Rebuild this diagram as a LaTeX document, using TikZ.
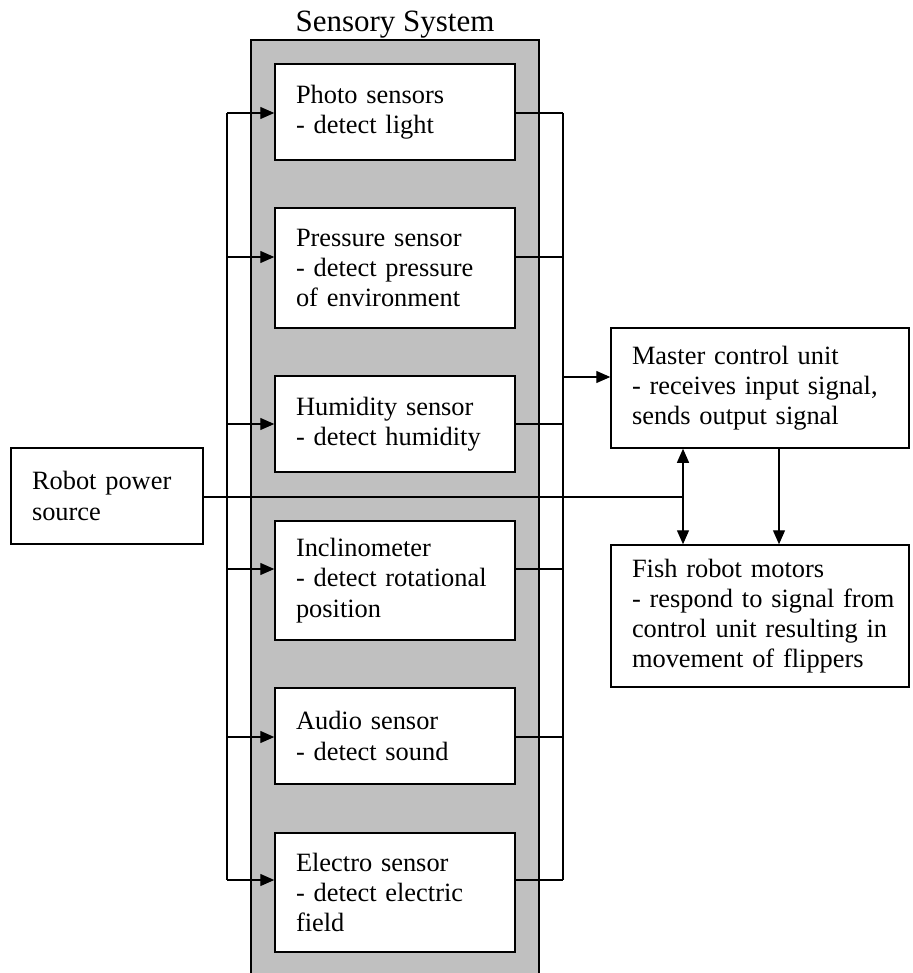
\documentclass[tikz,border=0pt]{standalone}
\usepackage{fontspec}
\setmainfont{Liberation Serif}
\usetikzlibrary{arrows.meta}
\definecolor{panelgray}{RGB}{192,192,192}
\begin{document}
\begin{tikzpicture}[x=1pt,y=-1pt,
  blk/.style={draw=black, fill=white, line width=1.5pt, align=left, inner xsep=21pt, inner ysep=0pt,
    font=\fontsize{26.4}{30.2}\selectfont},
  sensor/.style={blk, text width=198pt, minimum height=#1},
  conn/.style={line width=1.3pt},
  arr/.style={conn, -{Triangle[length=14pt,width=12pt]}},
  darr/.style={conn, {Triangle[length=14pt,width=12pt]}-{Triangle[length=14pt,width=12pt]}}]
\useasboundingbox (0,0) rectangle (912,973);
% sensory system panel
\fill[panelgray] (251,40) rectangle (539,973);
\draw[line width=1.5pt] (251,973) -- (251,40) -- (539,40) -- (539,973);
\node[font=\fontsize{31}{36}\selectfont, anchor=base] (title) at (395,32) {Sensory System};
% sensors
\node[sensor=96pt]  (photo) at (395,112)   {Photo sensors\\- detect light};
\node[sensor=120pt] (press) at (395,268)   {Pressure sensor\\- detect pressure\\of environment};
\node[sensor=96pt]  (humid) at (395,424)   {Humidity sensor\\- detect humidity};
\node[sensor=119pt] (incl)  at (395,580.5) {Inclinometer\\- detect rotational\\position};
\node[sensor=96pt]  (audio) at (395,736)   {Audio sensor\\- detect sound};
\node[sensor=119pt] (elec)  at (395,892.5) {Electro sensor\\- detect electric\\field};
% other blocks
\node[blk, text width=256pt, minimum height=120pt] (master) at (760,388) {Master control unit\\- receives input signal,\\sends output signal};
\node[blk, text width=256pt, minimum height=142pt] (fish) at (760,616) {\mbox{Fish robot motors}\\\mbox{- respond to signal from}\\\mbox{control unit resulting in}\\\mbox{movement of flippers}};
\node[blk, text width=150pt, minimum height=96pt] (power) at (107,496) {Robot power\\source};
% connector junction points
\coordinate (L1) at (227,113);
\coordinate (L2) at (227,257);
\coordinate (L3) at (227,424);
\coordinate (L4) at (227,569);
\coordinate (L5) at (227,737);
\coordinate (L6) at (227,880);
\coordinate (R1) at (563,113);
\coordinate (R2) at (563,257);
\coordinate (R3) at (563,424);
\coordinate (R4) at (563,569);
\coordinate (R5) at (563,737);
\coordinate (R6) at (563,880);
\coordinate (M)  at (563,377);
\coordinate (P)  at (683,497);
\coordinate (D)  at (779,497);
% left bus
\draw[conn] (L1) -- (L6);
\foreach \i/\n in {1/photo,2/press,3/humid,4/incl,5/audio,6/elec}{
  \draw[arr] (L\i) -- (L\i -| \n.west);
  \draw[conn] (R\i -| \n.east) -- (R\i);
}
% right bus
\draw[conn] (R1) -- (R6);
\draw[arr] (M) -- (M -| master.west);
% power line
\draw[conn] (power.east |- P) -- (P);
\draw[darr] (P |- master.south) -- (P |- fish.north);
\draw[arr] (D |- master.south) -- (D |- fish.north);
\end{tikzpicture}
\end{document}
